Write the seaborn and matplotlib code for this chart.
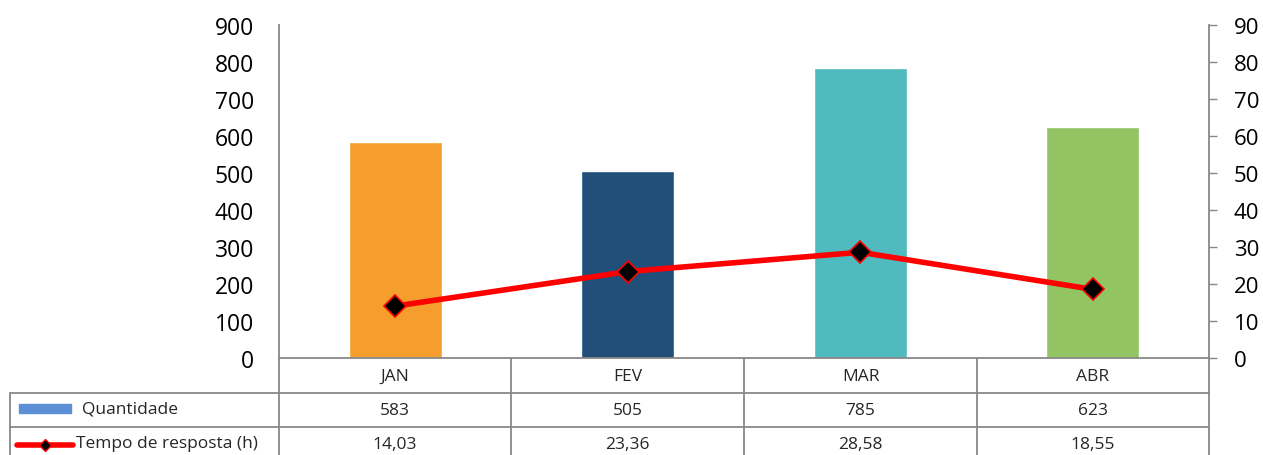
import numpy as np
import pandas as pd
import seaborn as sns
import matplotlib
matplotlib.use('Agg')
import matplotlib.pyplot as plt
from matplotlib.lines import Line2D
from matplotlib.patches import Rectangle

meses = ['JAN', 'FEV', 'MAR', 'ABR']
quantidade = [583, 505, 785, 623]
tempo = [14.03, 23.36, 28.58, 18.55]
cores = ['#F59D2D', '#214F7A', '#4FBBBF', '#92C463']

sns.set_style('white')
plt.rcParams['font.family'] = ['Open Sans', 'DejaVu Sans']

W, H = 1263, 456
fig = plt.figure(figsize=(W / 100, H / 100), dpi=100)

# plot area in pixels
x0, x1 = 279, 1209
ytop, ybot = 26, 359
ax = fig.add_axes([x0 / W, 1 - ybot / H, (x1 - x0) / W, (ybot - ytop) / H])

df = pd.DataFrame({'mes': meses, 'qtd': quantidade})
sns.barplot(data=df, x='mes', y='qtd', hue='mes', palette=cores, width=0.4,
            legend=False, ax=ax, saturation=1)
ax.set_ylim(0, 900)
ax.set_yticks(range(0, 901, 100))
ax.set_xlim(-0.5, 3.5)
ax.set_xticks([])
ax.set_xlabel('')
ax.set_ylabel('')
ax.tick_params(axis='y', labelsize=16.5, length=0, pad=18)

ax2 = ax.twinx()
sns.lineplot(x=np.arange(len(meses)), y=tempo, ax=ax2, color='#FF0000', linewidth=4,
             marker='D', markersize=11, markerfacecolor='black', markeredgecolor='#FF0000',
             markeredgewidth=1.2)
ax2.set_ylim(0, 90)
ax2.set_yticks(range(0, 91, 10))
ax2.tick_params(axis='y', labelsize=16, length=6, width=1, color='#888888', pad=12, direction='out')
ax2.set_xlim(-0.5, 3.5)

for a in (ax, ax2):
    for s in a.spines.values():
        s.set_visible(False)
ax.spines['left'].set_visible(True)
ax.spines['left'].set_color('#888888')
ax.spines['left'].set_linewidth(1.3)
ax2.spines['right'].set_visible(True)
ax2.spines['right'].set_color('#888888')
ax2.spines['right'].set_linewidth(1.3)
for lbl in ax.get_yticklabels() + ax2.get_yticklabels():
    lbl.set_color('black')

# data table
def fx(px):
    return px / W

def fy(py):
    return 1 - py / H

grid = dict(color='#888888', linewidth=1.3, transform=fig.transFigure)
cols = [279, 511, 744, 977, 1209]
fig.add_artist(Line2D([fx(279), fx(1209)], [fy(359), fy(359)], **grid))
for yy in (394, 428):
    fig.add_artist(Line2D([fx(10), fx(1209)], [fy(yy), fy(yy)], **grid))
fig.add_artist(Line2D([fx(10), fx(10)], [fy(394), fy(460)], **grid))
for cx in cols:
    fig.add_artist(Line2D([fx(cx), fx(cx)], [fy(359), fy(460)], **grid))

fs = 12.5
centros = [(cols[i] + cols[i + 1]) / 2 for i in range(len(meses))]
for i, m in enumerate(meses):
    fig.text(fx(centros[i]), fy(377), m, ha='center', va='center', fontsize=fs)
    fig.text(fx(centros[i]), fy(411), str(quantidade[i]), ha='center', va='center', fontsize=fs)
    fig.text(fx(centros[i]), fy(445), f'{tempo[i]:.2f}'.replace('.', ','),
             ha='center', va='center', fontsize=fs)

fig.add_artist(Rectangle((fx(19), fy(414)), fx(71) - fx(19), fy(405) - fy(414),
                         transform=fig.transFigure, color='#5B8FD6'))
fig.text(fx(82), fy(410), 'Quantidade', ha='left', va='center', fontsize=fs)
fig.add_artist(Line2D([fx(17), fx(73)], [fy(446), fy(446)], color='#FF0000', linewidth=4,
                      transform=fig.transFigure, solid_capstyle='round'))
fig.add_artist(Line2D([fx(45)], [fy(446)], marker='D', markersize=6, markerfacecolor='black',
                      markeredgecolor='#FF0000', transform=fig.transFigure))
fig.text(fx(76), fy(444), 'Tempo de resposta (h)', ha='left', va='center', fontsize=fs)

fig.savefig('out.png', dpi=100)
